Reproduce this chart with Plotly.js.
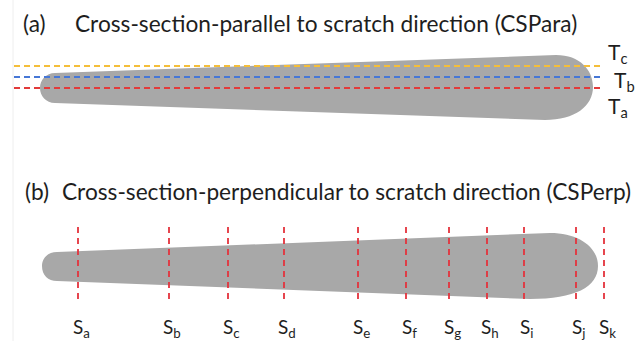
<!DOCTYPE html>
<html>
<head>
<meta charset="utf-8">
<script src="https://cdn.plot.ly/plotly-3.0.1.min.js"></script>
<style>html,body{margin:0;padding:0;background:#fff;}#chart{width:641px;height:341px;}</style>
</head>
<body>
<div id="chart"></div>
<script>
// ---- data ----
const tLabels = ['a', 'b', 'c'];
const tLevels = [88, 77, 66];          // depth of parallel cross-sections
const sLabels = ['a','b','c','d','e','f','g','h','i','j','k'];
const sPositions = [78, 169, 228, 284, 358, 406, 449, 487, 524, 576, 604]; // perpendicular cross-section positions
const titleA = 'Cross-section-parallel to scratch direction (CSPara)';
const titleB = 'Cross-section-perpendicular to scratch direction (CSPerp)';

// ---- style ----
const tColors = ['#e23a3a', '#4677d6', '#f4be3a'];
const sColor = '#e4323c';
const FONT = 'Lato, "Open Sans", sans-serif';
const TXT = '#1e1e1e';

const traces = [];
// parallel cross-section lines
tLevels.forEach((lv, i) => {
  traces.push({
    x: [14, 603], y: [lv, lv], mode: 'lines', type: 'scatter', hoverinfo: 'skip',
    line: {color: tColors[i], width: 1.8, dash: '6px,4px'}
  });
});
// perpendicular cross-section lines
const sx = [], sy = [];
sPositions.forEach(p => { sx.push(p, p, null); sy.push(227, 304, null); });
traces.push({
  x: sx, y: sy, mode: 'lines', type: 'scatter', hoverinfo: 'skip',
  line: {color: sColor, width: 1.8, dash: '6px,5px'}
});

const annotations = [];
const TSIZE = 22.7;
annotations.push({x: 21, y: 23, xref: 'x', yref: 'y', text: '(a)', showarrow: false,
  xanchor: 'left', yanchor: 'middle', font: {family: FONT, size: TSIZE, color: TXT}});
annotations.push({x: 73, y: 23, xref: 'x', yref: 'y', text: titleA, showarrow: false,
  xanchor: 'left', yanchor: 'middle', font: {family: FONT, size: TSIZE, color: TXT}});
annotations.push({x: 23, y: 191, xref: 'x', yref: 'y', text: '(b)', showarrow: false,
  xanchor: 'left', yanchor: 'middle', font: {family: FONT, size: TSIZE, color: TXT}});
annotations.push({x: 60, y: 191, xref: 'x', yref: 'y', text: titleB, showarrow: false,
  xanchor: 'left', yanchor: 'middle', font: {family: FONT, size: TSIZE, color: TXT}});

const tLabelX = [606, 612, 606];
const tLabelY = [107, 81, 53];
tLabels.forEach((l, i) => {
  annotations.push({x: tLabelX[i], y: tLabelY[i], xref: 'x', yref: 'y',
    text: 'T<sub>' + l + '</sub>', showarrow: false, xanchor: 'left', yanchor: 'middle',
    font: {family: FONT, size: 21, color: TXT}});
});
sLabels.forEach((l, i) => {
  annotations.push({x: sPositions[i] + 3, y: 328, xref: 'x', yref: 'y',
    text: 'S<sub>' + l + '</sub>', showarrow: false, xanchor: 'center', yanchor: 'middle',
    font: {family: FONT, size: 19, color: TXT}});
});

const shapes = [
  {type: 'line', xref: 'x', yref: 'y', x0: 13, x1: 13, y0: 0, y1: 341,
   line: {color: '#eeeeee', width: 1}, layer: 'below'},
  {type: 'path', xref: 'x', yref: 'y', layer: 'below', fillcolor: '#a8a8a8', line: {width: 0},
   path: 'M 55,73 L 556,55 C 580,55 593,70 593,87 C 593,106 575,120 545,120 L 55,103 C 46,103 40,96 40,88 C 40,80 46,73 55,73 Z'},
  {type: 'path', xref: 'x', yref: 'y', layer: 'below', fillcolor: '#a8a8a8', line: {width: 0},
   path: 'M 57,252 L 550,233 C 580,233 598,248 598,266 C 598,287 575,299 530,299 L 57,281 C 48,281 42,275 42,266 C 42,258 48,252 57,252 Z'}
];

const layout = {
  width: 641, height: 341, margin: {l: 0, r: 0, t: 0, b: 0},
  paper_bgcolor: '#ffffff', plot_bgcolor: '#ffffff', showlegend: false,
  xaxis: {range: [0, 641], visible: false, fixedrange: true},
  yaxis: {range: [341, 0], visible: false, fixedrange: true},
  annotations: annotations, shapes: shapes
};
Plotly.newPlot('chart', traces, layout, {staticPlot: true, displayModeBar: false});
</script>
</body>
</html>
